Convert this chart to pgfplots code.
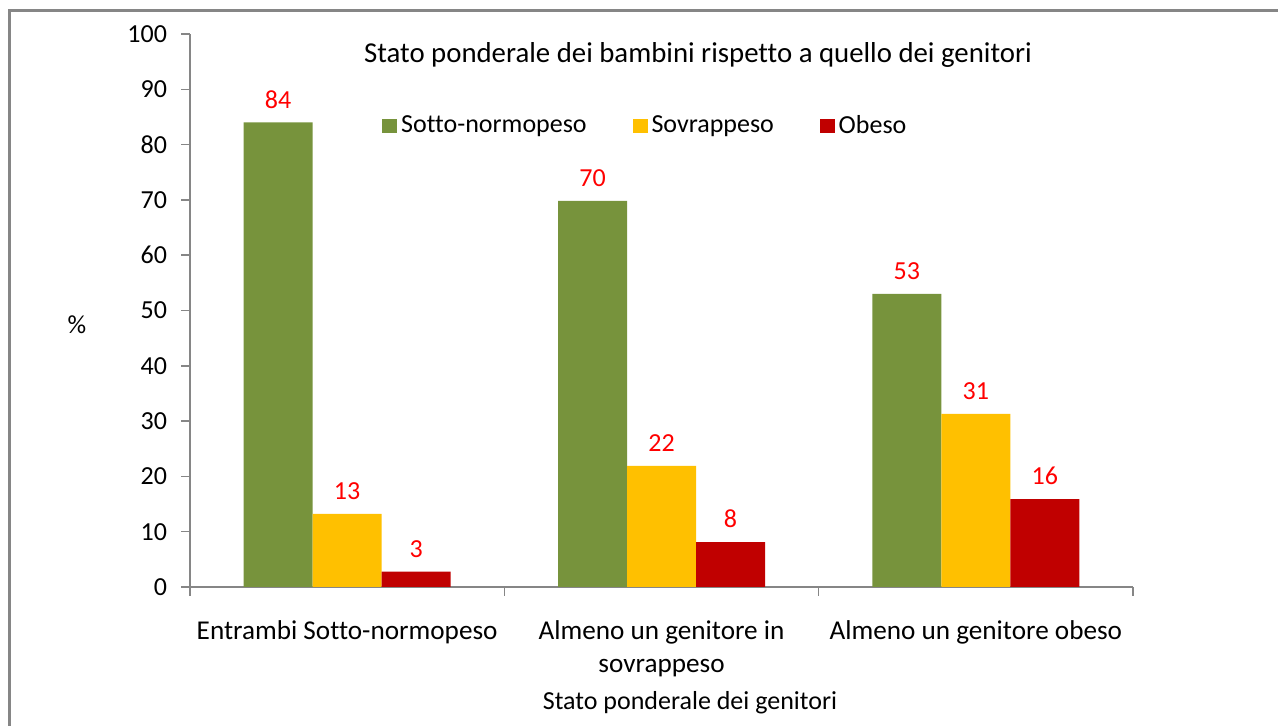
\documentclass[border=0pt]{standalone}
\usepackage{fontspec}
\setmainfont{Carlito}[Ligatures=NoCommon]
\usepackage{pgfplots}
\pgfplotsset{compat=1.18}
\definecolor{cgreen}{HTML}{77933C}
\definecolor{cyellow}{HTML}{FFC000}
\definecolor{cred}{HTML}{C00000}
\definecolor{cgray}{HTML}{868686}
\newcommand\cf{\fontsize{13}{16.5}\selectfont}
\newcommand\cfx{\fontsize{13.6}{16.5}\selectfont}
\newcommand\cft{\fontsize{14.4}{17}\selectfont}
\begin{document}
\begin{tikzpicture}
\path[use as bounding box] (0,0) rectangle (639pt,363pt);
\draw[cgray, line width=1.5pt] (4.5pt,0) -- (4.5pt,357.5pt) -- (639pt,357.5pt);
\begin{axis}[
  at={(95pt,69.5pt)}, anchor=south west,
  scale only axis, width=471.5pt, height=276.5pt,
  ybar=0pt, bar width=34.5pt,
  xmin=-0.5, xmax=2.5, ymin=0, ymax=100,
  axis x line=bottom, axis y line=left,
  axis line style={cgray, line width=0.75pt, -},
  tick align=outside,
  xtick={0,1,2},
  xticklabels={Entrambi Sotto-normopeso, {Almeno un genitore in\\sovrappeso}, Almeno un genitore obeso},
  major x tick style={draw=none},
  minor xtick={-0.5,0.5,1.5,2.5},
  minor tick length=4.5pt,
  major tick length=4.5pt,
  minor x tick style={cgray, line width=0.75pt},
  ytick={0,10,...,100},
  y tick style={cgray, line width=0.75pt},
  tick label style={font=\cf},
  xticklabel style={align=center, yshift=-9pt, font=\cfx},
  yticklabel style={xshift=-3.5pt},
  /pgf/number format/assume math mode=true,
  nodes near coords={\pgfmathprintnumber[fixed,precision=0]{\pgfplotspointmeta}},
  nodes near coords style={text=red, font=\cf, yshift=3.5pt},
  legend columns=3,
  legend style={draw=none, fill=none, font=\cf, anchor=center,
    at={(axis description cs:0.484,0.834)},
    /tikz/every even column/.append style={column sep=21pt}},
  legend image code/.code={\fill[#1] (0pt,-3.6pt) rectangle (7.4pt,3.6pt);},
]
\addplot[fill=cgreen, draw=none] coordinates {(0,84) (1,69.8) (2,53)};
\addplot[fill=cyellow, draw=none] coordinates {(0,13.2) (1,21.9) (2,31.3)};
\addplot[fill=cred, draw=none] coordinates {(0,2.8) (1,8.1) (2,15.9)};
\legend{Sotto-normopeso, Sovrappeso, Obeso}
\end{axis}
\node[font=\cft] at (349pt,335.5pt) {Stato ponderale dei bambini rispetto a quello dei genitori};
\node[font=\cf] at (38.5pt,200.5pt) {\%};
\node[font=\cf] at (345pt,11.5pt) {Stato ponderale dei genitori};
\end{tikzpicture}
\end{document}
